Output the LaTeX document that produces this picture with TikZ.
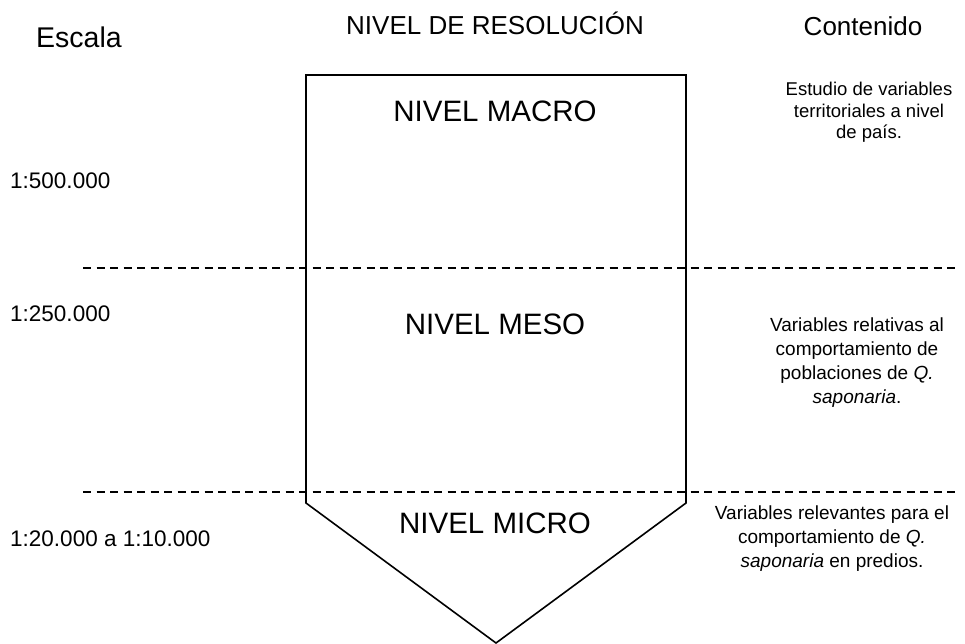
\documentclass[tikz,border=0pt]{standalone}
\usepackage{fontspec}
\setmainfont{Liberation Sans}
\begin{document}
\begin{tikzpicture}[x=1pt,y=-1pt,
  hdr/.style={inner sep=0pt,anchor=base,font=\fontsize{26}{30}\selectfont},
  lvl/.style={inner sep=0pt,anchor=base,font=\fontsize{29.5}{34}\selectfont},
  scl/.style={inner sep=0pt,anchor=base west,font=\fontsize{22.5}{26}\selectfont},
  cnt/.style={inner sep=0pt,anchor=north,align=center,font=\fontsize{19}{24}\selectfont},
  sep/.style={line width=1.3pt,dash pattern=on 8pt off 5.5pt},
  box/.style={line width=1.6pt,line join=miter}]
\useasboundingbox (0,0) rectangle (965,643);
% shape
\coordinate (tl) at (306,75);
\coordinate (tr) at (686,75);
\coordinate (br) at (686,503);
\coordinate (apex) at (496,643);
\coordinate (bl) at (306,503);
\draw[box] (tl) -- (tr) -- (br) -- (apex) -- (bl) -- cycle;
% separators
\coordinate (s1a) at (83,268);
\coordinate (s1b) at (956,268);
\coordinate (s2a) at (83,492);
\coordinate (s2b) at (956,492);
\draw[sep] (s1a) -- (s1b);
\draw[sep] (s2a) -- (s2b);
% headers
\node[hdr,anchor=base west,font=\fontsize{28.5}{32}\selectfont] (escala) at (36,47) {Escala};
\node[hdr] (nivel) at (495,34) {NIVEL DE RESOLUCIÓN};
\node[hdr] (contenido) at (863,35) {Contenido};
% levels
\node[lvl] (macro) at (495,121) {NIVEL MACRO};
\node[lvl] (meso) at (495,334) {NIVEL MESO};
\node[lvl] (micro) at (495,533) {NIVEL MICRO};
% scales
\node[scl] (e1) at (10,188) {1:500.000};
\node[scl] (e2) at (10,321) {1:250.000};
\node[scl] (e3) at (10,546) {1:20.000 a 1:10.000};
% contents
\node[cnt,font=\fontsize{18.5}{21.5}\selectfont] (c1) at (869,82) {Estudio de variables\\territoriales a nivel\\de país.};
\node[cnt] (c2) at (857,318) {Variables relativas al\\comportamiento de\\poblaciones de \textit{Q.}\\\textit{saponaria}.};
\node[cnt] (c3) at (832,506) {Variables relevantes para el\\comportamiento de \textit{Q.}\\\textit{saponaria} en predios.};
\end{tikzpicture}
\end{document}
